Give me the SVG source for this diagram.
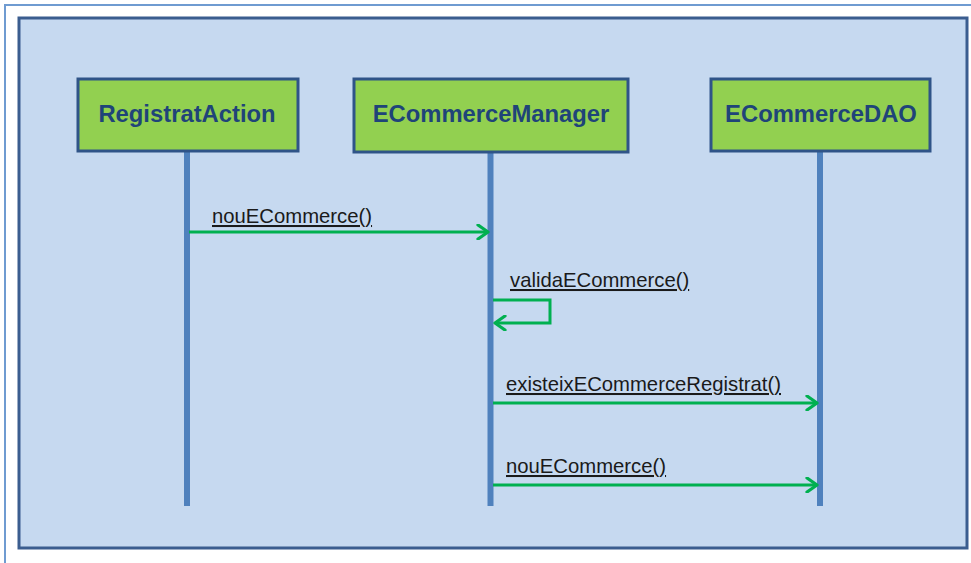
<svg xmlns="http://www.w3.org/2000/svg" width="971" height="563" viewBox="0 0 971 563">
<defs>
<style>
.node rect{fill:#92d050;stroke:#2f5488;stroke-width:3}
.node text{font-family:"Liberation Sans",Arial,sans-serif;font-weight:bold;font-size:23.8px;fill:#1f4479;text-anchor:middle}
.life{stroke:#4f81bd;stroke-width:6}
.msg{stroke:#00b050;stroke-width:3;fill:none}
.lbl{font-family:"Liberation Sans",Arial,sans-serif;font-size:20.3px;fill:#1a1a1a;text-decoration:underline}
</style>
<marker id="ah" markerWidth="16" markerHeight="16" refX="13" refY="8" orient="auto" markerUnits="userSpaceOnUse">
<path d="M3,1 L13,8 L3,15" fill="none" stroke="#00b050" stroke-width="3.2" stroke-linecap="round" stroke-linejoin="round"/>
</marker>
</defs>
<rect x="0" y="0" width="971" height="563" fill="#ffffff"/>
<path d="M5,563 L5,5 L971,5" fill="none" stroke="#6f9bd1" stroke-width="2"/>
<rect x="19" y="18" width="948" height="530" fill="#c6d9f0" stroke="#3b5d8f" stroke-width="3"/>
<g id="lifelines">
<line class="life" x1="187" y1="151" x2="187" y2="506"/>
<line class="life" x1="490.5" y1="152" x2="490.5" y2="506"/>
<line class="life" x1="820" y1="151" x2="820" y2="506"/>
</g>
<g id="node-registrataction" class="node">
<rect x="78" y="79" width="220" height="72"/>
<text x="187" y="122">RegistratAction</text>
</g>
<g id="node-ecommercemanager" class="node">
<rect x="354" y="79" width="274" height="73"/>
<text x="491" y="122">ECommerceManager</text>
</g>
<g id="node-ecommercedao" class="node">
<rect x="711" y="79" width="219" height="72"/>
<text x="821" y="122">ECommerceDAO</text>
</g>
<g id="connectors">
<line class="msg" x1="189" y1="232" x2="488" y2="232" marker-end="url(#ah)"/>
<polyline class="msg" points="493,300 550,300 550,323 495,323" marker-end="url(#ah)"/>
<line class="msg" x1="493" y1="403" x2="817" y2="403" marker-end="url(#ah)"/>
<line class="msg" x1="493" y1="485" x2="817" y2="485" marker-end="url(#ah)"/>
</g>
<g id="labels">
<text class="lbl" x="212" y="223">nouECommerce()</text>
<text class="lbl" x="510" y="287">validaECommerce()</text>
<text class="lbl" x="506" y="391">existeixECommerceRegistrat()</text>
<text class="lbl" x="506" y="473">nouECommerce()</text>
</g>
</svg>
